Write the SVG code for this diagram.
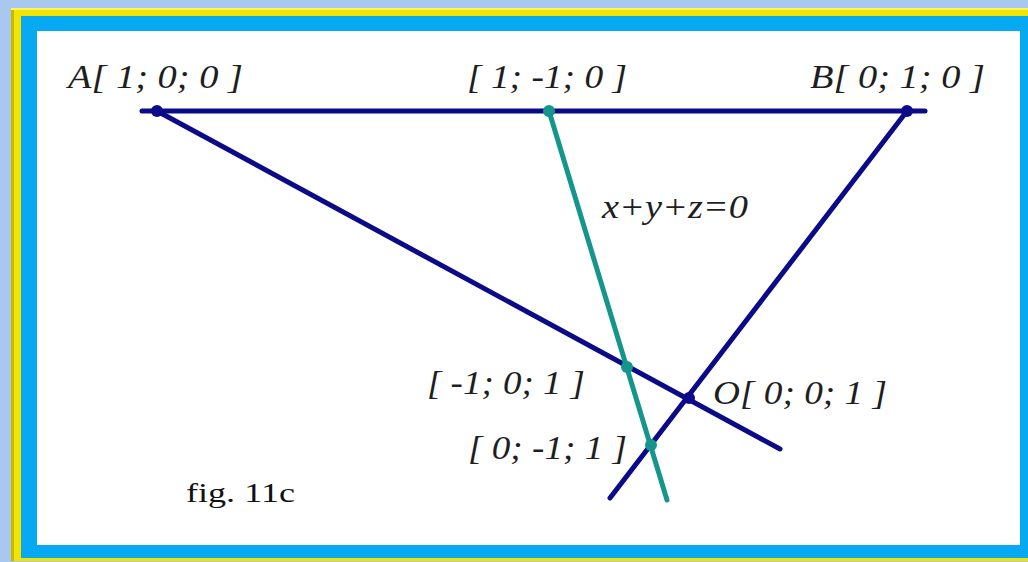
<svg xmlns="http://www.w3.org/2000/svg" width="1028" height="562" viewBox="0 0 1028 562">
<defs>
<style>
.ln{stroke:#0b0b8a;stroke-width:5;stroke-linecap:round;fill:none}
.tl{stroke:#14968c;stroke-width:5;stroke-linecap:round;fill:none}
.pt{fill:#0b0b8a}
.tp{fill:#14968c}
.lb{font-family:"Liberation Serif",serif;font-style:italic;font-size:33px;fill:#1e1e1e}
.fg{font-family:"Liberation Serif",serif;font-size:28px;fill:#111}
</style>
</defs>
<rect x="0" y="0" width="1028" height="562" fill="#a8c8f0"/>
<g id="frame">
<rect x="11" y="8" width="1030" height="553" fill="#f3e400"/>
<path d="M11 8 L14 8 L14 561 L11 561 Z" fill="#c9b800"/>
<path d="M11 8 L1028 8 L1028 10 L11 10 Z" fill="#fff36a"/>
<rect x="21" y="16" width="1020" height="542" fill="#05aaf2"/>
<rect x="37" y="31" width="983" height="514" fill="#ffffff"/>
</g>
<g id="connectors">
<line class="ln" x1="142" y1="111" x2="925" y2="111"/>
<line class="ln" x1="157" y1="111" x2="780" y2="449"/>
<line class="ln" x1="907" y1="111" x2="610" y2="498"/>
<line class="tl" x1="549" y1="111" x2="667" y2="500"/>
</g>
<g id="A"><circle class="pt" cx="157" cy="111" r="6"/><text class="lb" x="68" y="88" textLength="175" lengthAdjust="spacingAndGlyphs">A[ 1; 0; 0 ]</text></g>
<g id="B"><circle class="pt" cx="907" cy="111" r="6"/><text class="lb" x="810" y="88" textLength="175" lengthAdjust="spacingAndGlyphs">B[ 0; 1; 0 ]</text></g>
<g id="P1"><circle class="tp" cx="549" cy="111" r="6"/><text class="lb" x="467" y="88" textLength="160" lengthAdjust="spacingAndGlyphs">[ 1; -1; 0 ]</text></g>
<g id="O"><circle class="pt" cx="689" cy="398" r="6"/><text class="lb" x="713" y="404" textLength="174" lengthAdjust="spacingAndGlyphs">O[ 0; 0; 1 ]</text></g>
<g id="P2"><circle class="tp" cx="627" cy="367" r="6"/><text class="lb" x="427" y="394" textLength="158" lengthAdjust="spacingAndGlyphs">[ -1; 0; 1 ]</text></g>
<g id="P3"><circle class="tp" cx="651" cy="445" r="6"/><text class="lb" x="468" y="459" textLength="159" lengthAdjust="spacingAndGlyphs">[ 0; -1; 1 ]</text></g>
<g id="eq"><text class="lb" x="602" y="218" textLength="146" lengthAdjust="spacingAndGlyphs">x+y+z=0</text></g>
<g id="caption"><text class="fg" x="186" y="502" textLength="109" lengthAdjust="spacingAndGlyphs">fig. 11c</text></g>
</svg>
